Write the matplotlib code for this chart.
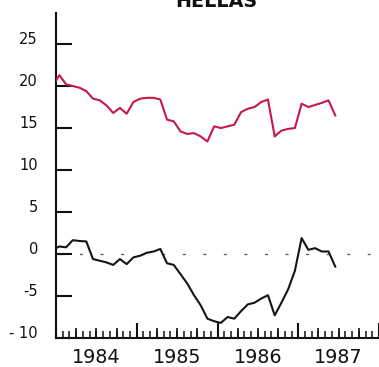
import matplotlib.pyplot as plt
import numpy as np

plt.rcParams['lines.scale_dashes'] = False

# Monthly series, Dec 1983 .. Jun 1987, plotted at mid-month
first_year = 1983
first_month = 12
red_series = [20.0, 21.3, 20.2, 20.0, 19.8, 19.4, 18.5, 18.3, 17.7, 16.8,
              17.4, 16.7, 18.1, 18.5, 18.6, 18.6, 18.4, 16.0, 15.8, 14.6,
              14.3, 14.4, 14.0, 13.4, 15.2, 15.0, 15.2, 15.4, 16.9, 17.3,
              17.5, 18.1, 18.4, 14.0, 14.7, 14.9, 15.0, 17.9, 17.5, 17.75,
              18.0, 18.3, 16.5]
black_series = [0.5, 0.9, 0.8, 1.65, 1.55, 1.5, -0.6, -0.8, -1.0, -1.3,
                -0.6, -1.2, -0.4, -0.2, 0.15, 0.3, 0.6, -1.1, -1.3, -2.4,
                -3.5, -4.9, -6.1, -7.7, -8.0, -8.2, -7.5, -7.7, -6.8, -6.0,
                -5.8, -5.3, -4.9, -7.3, -5.8, -4.2, -2.0, 1.9, 0.5, 0.7,
                0.3, 0.3, -1.5]

years = [1984, 1985, 1986, 1987]
yticks = [-10, -5, 0, 5, 10, 15, 20, 25]
ytick_labels = ['- 10', '-5', '0', '5', '10', '15', '20', '25']
title = 'HELLAS'

months = np.arange(len(red_series))
x = first_year + (first_month - 1 + months + 0.5) / 12

fig = plt.figure(figsize=(3.79, 3.67), dpi=100)
ax = fig.add_axes([56 / 379, 29 / 367, 323 / 379, 325 / 367])

ax.axhline(0, color='#555555', lw=0.9, ls=(12.7, (2.2, 12.6)), zorder=1)
ax.plot(x, red_series, color='#c8184a', lw=1.5, zorder=3)
ax.plot(x, black_series, color='#151515', lw=1.5, zorder=3)

ax.set_xlim(years[0], years[-1] + 1)
ax.set_ylim(-10, 28.7)

for side in ['top', 'right']:
    ax.spines[side].set_visible(False)
for side in ['left', 'bottom']:
    ax.spines[side].set_linewidth(1.5)
    ax.spines[side].set_color('#111111')

# y axis: inward ticks, labels sitting on the tick line
ax.set_yticks(yticks)
ax.set_yticklabels(ytick_labels)
ax.tick_params(axis='y', direction='in', length=11.5, width=1.5, pad=13,
               labelsize=10.5, colors='#111111')
for t in ax.yaxis.get_major_ticks():
    t.label1.set_verticalalignment('baseline')

# x axis: years (tall), months (short), quarters on a secondary axis
year_edges = years + [years[-1] + 1]
ax.set_xticks(year_edges)
ax.set_xticks([y + m / 12 for y in years for m in range(1, 12)], minor=True)
ax.tick_params(axis='x', which='major', direction='in', length=10.8,
               width=1.5, labelbottom=False, colors='#111111')
ax.tick_params(axis='x', which='minor', direction='in', length=5,
               width=1.1, colors='#111111')

quarters = [y + q / 4 for y in years for q in (1, 2, 3)]
quarter_labels = [str(y) if q == 2 else '' for y in years for q in (1, 2, 3)]
sec = ax.secondary_xaxis('bottom')
sec.set_xticks(quarters)
sec.set_xticklabels(quarter_labels)
sec.tick_params(direction='in', length=7.2, width=1.2, pad=7,
                labelsize=13.8, colors='#111111')
sec.spines['bottom'].set_visible(False)

fig.text(216 / 379, 1 - 7 / 367, title, ha='center', va='baseline',
         fontsize=13.8, fontweight='bold', color='#111111')

fig.savefig('out.png', dpi=100)
